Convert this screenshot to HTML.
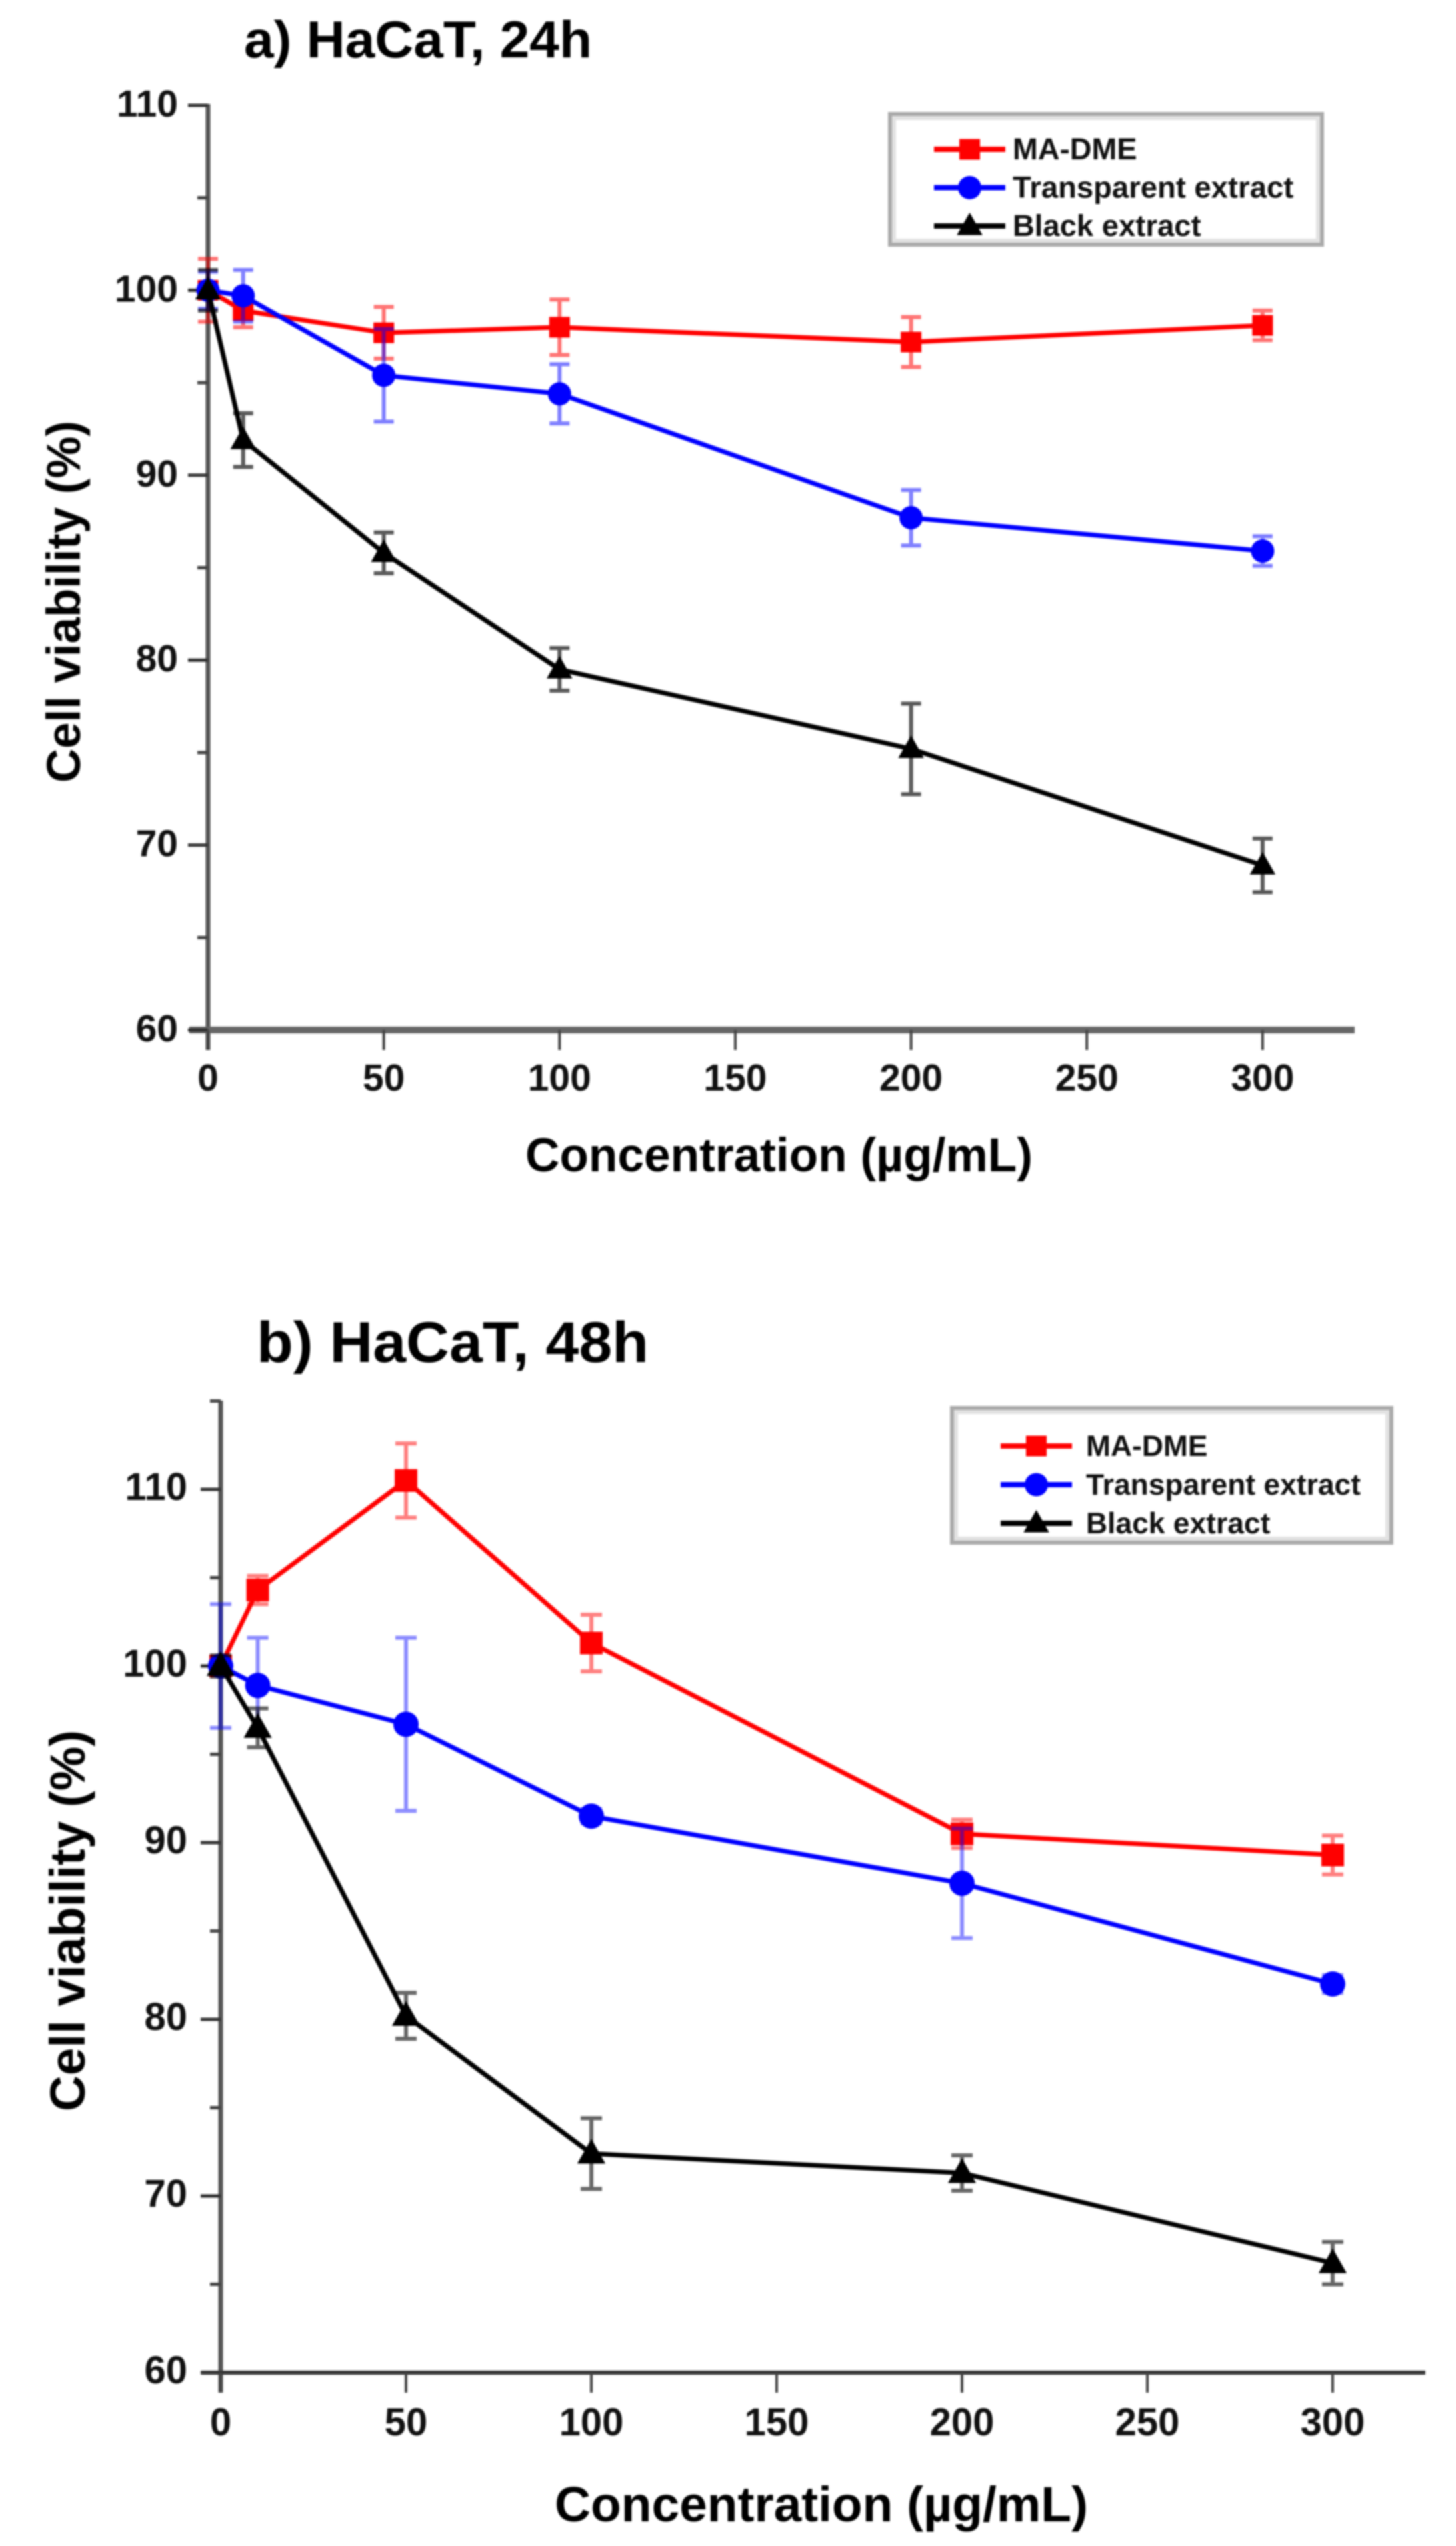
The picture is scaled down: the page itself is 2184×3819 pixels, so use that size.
<!DOCTYPE html>
<html lang="en">
<head>
<meta charset="utf-8">
<title>HaCaT cell viability at 24h and 48h</title>
<style>
html,body{margin:0;padding:0;background:#fff;}
svg{display:block;font-family:"Liberation Sans",Arial,sans-serif;}
#soft{filter:blur(1.3px);}
</style>
</head>
<body>
<svg id="chart" xmlns="http://www.w3.org/2000/svg" width="2184" height="3819" viewBox="0 0 2184 3819">
<rect width="2184" height="3819" fill="#fff"/>
<g id="soft"></g>
</svg>
<script>
// ---- shared data ----
const concentrations = [0, 10, 50, 100, 200, 300];
const xTickLabels = [0, 50, 100, 150, 200, 250, 300];
const seriesNames = ['MA-DME', 'Transparent extract', 'Black extract'];

// ---- panel a: 24h ----
const yTicksA = [60, 70, 80, 90, 100, 110];
const yMinorA = [65, 75, 85, 95, 105];
const redA = [100, 98.9, 97.7, 98.0, 97.2, 98.1];
const redErrA = [1.7, 0.9, 1.4, 1.5, 1.35, 0.8];
const blueA = [100, 99.7, 95.4, 94.4, 87.7, 85.9];
const blueErrA = [1.0, 1.4, 2.5, 1.6, 1.5, 0.8];
const blackA = [100, 91.9, 85.8, 79.5, 75.2, 68.9];
const blackErrA = [1.1, 1.45, 1.1, 1.15, 2.45, 1.45];

// ---- panel b: 48h ----
const yTicksB = [60, 70, 80, 90, 100, 110];
const yMinorB = [65, 75, 85, 95, 105, 115];
const redB = [100, 104.3, 110.5, 101.3, 90.5, 89.3];
const redErrB = [0.5, 0.8, 2.1, 1.6, 0.8, 1.1];
const blueB = [100, 98.9, 96.7, 91.5, 87.7, 82.0];
const blueErrB = [3.5, 2.7, 4.9, 0.4, 3.1, 0.5];
const blackB = [100, 96.5, 80.2, 72.4, 71.3, 66.2];
const blackErrB = [0.6, 1.1, 1.3, 2.0, 1.0, 1.2];

const NS = 'http://www.w3.org/2000/svg';
const root = document.getElementById('soft');

function make(tag, attrs, parent) {
  const el = document.createElementNS(NS, tag);
  for (const k in attrs) el.setAttribute(k, attrs[k]);
  parent.appendChild(el);
  return el;
}

function drawMarker(kind, cx, cy, s, color, parent) {
  let m;
  if (kind === 'square') {
    m = make('rect', {x: cx - s / 2, y: cy - s / 2, width: s, height: s, fill: color}, parent);
  } else if (kind === 'circle') {
    m = make('circle', {cx: cx, cy: cy, r: s / 2 + 2, fill: color}, parent);
  } else {
    const h = s * 1.05;
    const w = s * 0.62;
    m = make('polygon', {points: (cx - w) + ',' + (cy + h * 0.42) + ' ' + (cx + w) + ',' + (cy + h * 0.42) + ' ' + cx + ',' + (cy - h * 0.62), fill: color}, parent);
  }
  return m;
}

function drawPanel(p) {
  const xAt = v => p.x0 + v * p.xPerUnit;
  const yAt = v => p.yBase - (v - 60) * p.yPerUnit;

  const g = make('g', {}, root);
  
  

  // title
  const title = make('text', {x: p.titleX, y: p.titleY, 'font-size': p.titleSize, 'font-weight': 'bold', fill: '#000', textLength: p.titleLen, lengthAdjust: 'spacingAndGlyphs'}, g);
  title.textContent = p.title;
  
  

  // axes
  const yAxis = make('line', {x1: p.x0, x2: p.x0, y1: p.yTop, y2: p.yBase + p.xTickLen, stroke: '#555', 'stroke-width': 7}, g);
  
  
  const xAxis = make('line', {x1: p.xAxisStart, x2: p.xAxisEnd, y1: p.yBase, y2: p.yBase, stroke: p.xAxisColor, 'stroke-width': p.xAxisWidth}, g);
  
  

  // y ticks
  p.yTicks.forEach(v => {
    const t = make('line', {x1: p.x0 - 30, x2: p.x0, y1: yAt(v), y2: yAt(v), stroke: '#333', 'stroke-width': 5}, g);
    
    
    const l = make('text', {x: p.yLabelX, y: yAt(v) + p.yLabelDy, 'font-size': p.tickSize, 'font-weight': 'bold', 'text-anchor': 'end', fill: '#111'}, g);
    l.textContent = v;
    
    
  });
  p.yMinor.forEach(v => {
    const t = make('line', {x1: p.x0 - 16, x2: p.x0, y1: yAt(v), y2: yAt(v), stroke: '#444', 'stroke-width': 5}, g);
    
    
  });

  // x ticks
  xTickLabels.forEach(v => {
    const t = make('line', {x1: xAt(v), x2: xAt(v), y1: p.yBase, y2: p.yBase + p.xTickLen, stroke: '#444', 'stroke-width': 4}, g);
    
    
    const l = make('text', {x: xAt(v), y: p.xLabelY, 'font-size': p.tickSize, 'font-weight': 'bold', 'text-anchor': 'middle', fill: '#111'}, g);
    l.textContent = v;
    
    
  });

  // axis titles
  const xt = make('text', {x: p.xTitleX, y: p.xTitleY, 'font-size': p.axisTitleSize, 'font-weight': 'bold', fill: '#000', textLength: p.xTitleLen, lengthAdjust: 'spacingAndGlyphs'}, g);
  xt.textContent = 'Concentration (\u00B5g/mL)';
  
  
  const yt = make('text', {transform: 'translate(' + p.yTitleX + ',' + p.yTitleStart + ') rotate(-90)', 'font-size': p.axisTitleSize, 'font-weight': 'bold', fill: '#000', textLength: p.yTitleLen, lengthAdjust: 'spacingAndGlyphs'}, g);
  yt.textContent = 'Cell viability (%)';
  
  

  // series
  p.series.forEach(s => {
    const sg = make('g', {}, g);
    
    

    s.values.forEach((v, i) => {
      const x = xAt(concentrations[i]);
      const top = yAt(v + s.errors[i]);
      const bot = yAt(v - s.errors[i]);
      const eb = make('path', {
        d: 'M' + x + ' ' + top + 'V' + bot + 'M' + (x - p.capHalf) + ' ' + top + 'H' + (x + p.capHalf) + 'M' + (x - p.capHalf) + ' ' + bot + 'H' + (x + p.capHalf),
        stroke: s.color, 'stroke-width': 6, fill: 'none', opacity: s.errOpacity
      }, sg);
      
      
    });

    const line = make('polyline', {
      points: s.values.map((v, i) => xAt(concentrations[i]) + ',' + yAt(v)).join(' '),
      fill: 'none', stroke: s.color, 'stroke-width': 7, 'stroke-linejoin': 'round'
    }, sg);
    
    

    s.values.forEach((v, i) => {
      const m = drawMarker(s.kind, xAt(concentrations[i]), yAt(v), p.markerSize, s.color, sg);
      
      
    });
  });

  // legend
  const lg = make('g', {}, g);
  
  
  const box = make('rect', {x: p.legX, y: p.legY, width: p.legW, height: p.legH, fill: '#fff', stroke: '#aaa', 'stroke-width': 6}, lg);
  
  
  const inner = make('rect', {x: p.legX + 6, y: p.legY + 6, width: p.legW - 12, height: p.legH - 12, fill: 'none', stroke: '#e2e2e2', 'stroke-width': 6}, lg);
  
  
  seriesNames.forEach((name, i) => {
    const s = p.series[i];
    const ey = p.legRowY + i * p.legRowGap;
    const eg = make('g', {}, lg);
    
    
    make('line', {x1: p.legLine1, x2: p.legLine2, y1: ey, y2: ey, stroke: s.color, 'stroke-width': 8}, eg);
    drawMarker(s.kind, (p.legLine1 + p.legLine2) / 2, ey, p.legMarker, s.color, eg);
    const t = make('text', {x: p.legTextX, y: ey + p.legTextDy, 'font-size': p.legFont, 'font-weight': 'bold', fill: '#111'}, eg);
    t.textContent = name;
  });
}

drawPanel({
  id: 'panel-a-24h',
  title: 'a) HaCaT, 24h', titleX: 366, titleY: 86, titleSize: 78, titleLen: 522,
  x0: 312, xPerUnit: 5.273, yBase: 1545, yPerUnit: 27.74, yTop: 156,
  xAxisStart: 284, xAxisEnd: 2032, xAxisColor: '#666', xAxisWidth: 10, xTickLen: 30,
  yTicks: yTicksA, yMinor: yMinorA,
  yLabelX: 267, yLabelDy: 17, xLabelY: 1636, tickSize: 57,
  axisTitleSize: 71, xTitleX: 788, xTitleY: 1757, xTitleLen: 761,
  yTitleX: 120, yTitleStart: 1174, yTitleLen: 543,
  capHalf: 15, markerSize: 31,
  series: [
    {key: 'ma-dme', values: redA, errors: redErrA, color: '#ff0000', kind: 'square', errOpacity: 0.55},
    {key: 'transparent-extract', values: blueA, errors: blueErrA, color: '#0000ff', kind: 'circle', errOpacity: 0.5},
    {key: 'black-extract', values: blackA, errors: blackErrA, color: '#000000', kind: 'triangle', errOpacity: 0.65}
  ],
  legX: 1335, legY: 171, legW: 648, legH: 196,
  legRowY: 224, legRowGap: 57.5, legLine1: 1401, legLine2: 1508, legMarker: 31,
  legTextX: 1519, legTextDy: 15, legFont: 45.4
});

drawPanel({
  id: 'panel-b-48h',
  title: 'b) HaCaT, 48h', titleX: 385, titleY: 2043, titleSize: 86, titleLen: 588,
  x0: 331, xPerUnit: 5.56, yBase: 3559, yPerUnit: 26.5, yTop: 2101,
  xAxisStart: 302, xAxisEnd: 2138, xAxisColor: '#333', xAxisWidth: 6, xTickLen: 30,
  yTicks: yTicksB, yMinor: yMinorB,
  yLabelX: 281, yLabelDy: 16, xLabelY: 3653, tickSize: 58,
  axisTitleSize: 74.6, xTitleX: 832, xTitleY: 3782, xTitleLen: 800,
  yTitleX: 127, yTitleStart: 3167, yTitleLen: 572,
  capHalf: 16, markerSize: 34,
  series: [
    {key: 'ma-dme', values: redB, errors: redErrB, color: '#ff0000', kind: 'square', errOpacity: 0.5},
    {key: 'transparent-extract', values: blueB, errors: blueErrB, color: '#0000ff', kind: 'circle', errOpacity: 0.45},
    {key: 'black-extract', values: blackB, errors: blackErrB, color: '#000000', kind: 'triangle', errOpacity: 0.6}
  ],
  legX: 1428, legY: 2112, legW: 659, legH: 202,
  legRowY: 2169, legRowGap: 58, legLine1: 1501, legLine2: 1608, legMarker: 31,
  legTextX: 1629, legTextDy: 15, legFont: 44.4
});
</script>
</body>
</html>
